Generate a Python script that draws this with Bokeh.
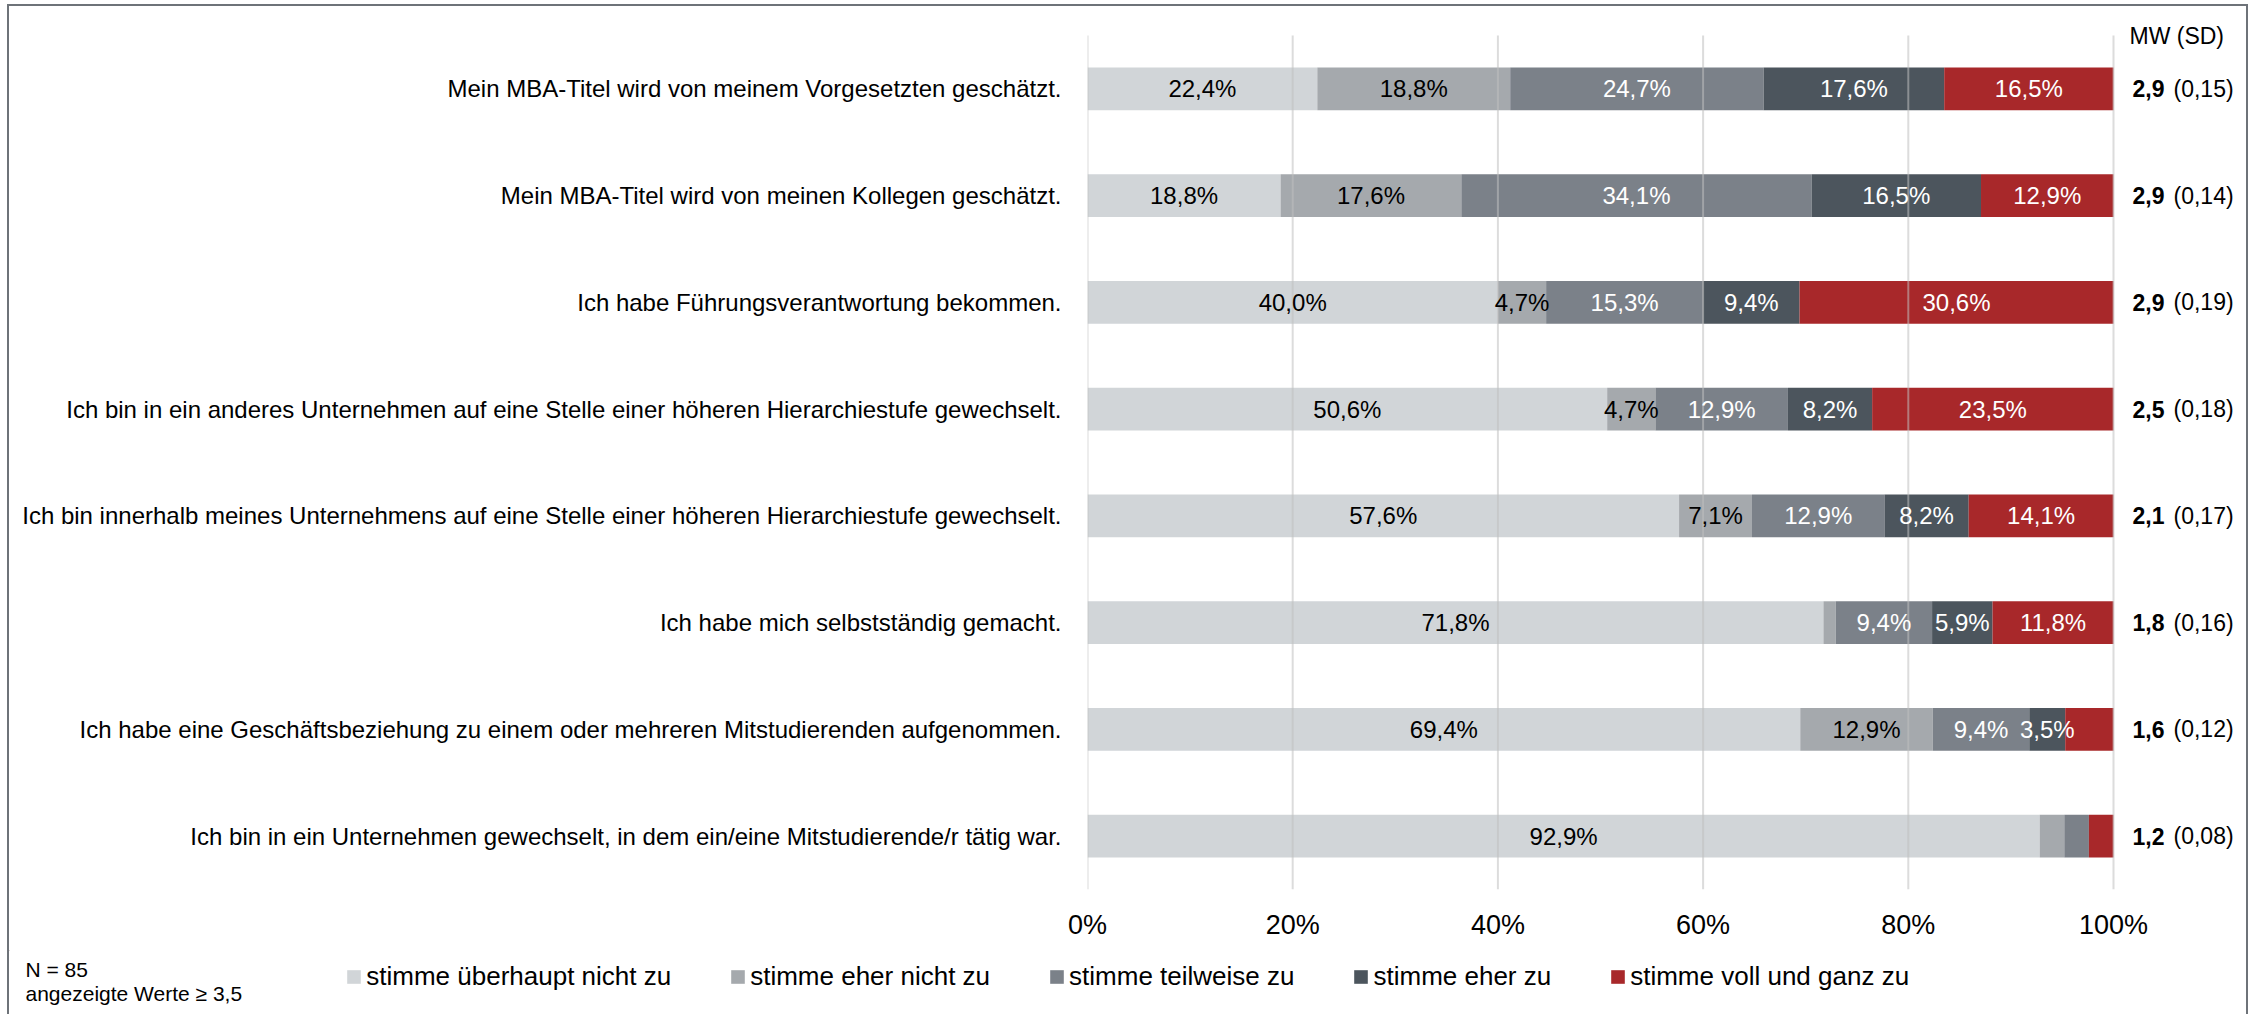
from bokeh.plotting import figure
from bokeh.models import (ColumnDataSource, Range1d, FixedTicker, PrintfTickFormatter,
                          Legend, LegendItem, Div, Spacer)
from bokeh.layouts import row, column
from bokeh.embed import file_html
from bokeh.resources import INLINE
from bokeh.core.properties import value

categories = [
    "Mein MBA-Titel wird von meinem Vorgesetzten geschätzt.",
    "Mein MBA-Titel wird von meinen Kollegen geschätzt.",
    "Ich habe Führungsverantwortung bekommen.",
    "Ich bin in ein anderes Unternehmen auf eine Stelle einer höheren Hierarchiestufe gewechselt.",
    "Ich bin innerhalb meines Unternehmens auf eine Stelle einer höheren Hierarchiestufe gewechselt.",
    "Ich habe mich selbstständig gemacht.",
    "Ich habe eine Geschäftsbeziehung zu einem oder mehreren Mitstudierenden aufgenommen.",
    "Ich bin in ein Unternehmen gewechselt, in dem ein/eine Mitstudierende/r tätig war.",
]
series = ["stimme überhaupt nicht zu", "stimme eher nicht zu", "stimme teilweise zu",
          "stimme eher zu", "stimme voll und ganz zu"]
ueberhaupt_nicht = [22.4, 18.8, 40.0, 50.6, 57.6, 71.8, 69.4, 92.9]
eher_nicht = [18.8, 17.6, 4.7, 4.7, 7.1, 1.2, 12.9, 2.4]
teilweise = [24.7, 34.1, 15.3, 12.9, 12.9, 9.4, 9.4, 2.4]
eher_zu = [17.6, 16.5, 9.4, 8.2, 8.2, 5.9, 3.5, 0.0]
voll = [16.5, 12.9, 30.6, 23.5, 14.1, 11.8, 4.7, 2.4]
mw = ["2,9", "2,9", "2,9", "2,5", "2,1", "1,8", "1,6", "1,2"]
sd = ["(0,15)", "(0,14)", "(0,19)", "(0,18)", "(0,17)", "(0,16)", "(0,12)", "(0,08)"]
x_ticks = [0, 20, 40, 60, 80, 100]
label_min = 3.5
label_hidden = [(6, 4)]
note_lines = ["N = 85", "angezeigte Werte ≥ 3,5"]
mw_header = "MW (SD)"

colors = ["#d1d5d8", "#a5a9ad", "#7b8189", "#4c555d", "#a8282a"]
text_colors = ["#000000", "#000000", "#ffffff", "#ffffff", "#ffffff"]
FONT = "Liberation Sans"
BORDER = "#6e7379"

values = [ueberhaupt_nicht, eher_nicht, teilweise, eher_zu, voll]
n_rows = len(categories)
ys = [n_rows - 0.5 - i for i in range(n_rows)]
row_sums = [sum(values[k][i] for k in range(5)) for i in range(n_rows)]

# page geometry (pixels): content box starts at x=9, y=6
PX_X = 10.26          # pixels per percent
PX_Y = 106.75         # pixels per row
X0 = 1087             # pixel of 0 %
Y0 = 889              # pixel of bottom of last row band
def dx(px):
    return (px - X0) / PX_X
def dy(py):
    return (Y0 - py) / PX_Y


def clean(fig):
    fig.outline_line_color = None
    fig.background_fill_color = "#ffffff"
    fig.border_fill_color = "#ffffff"
    fig.xgrid.visible = False
    fig.ygrid.visible = False
    return fig


# ---------------- main chart (bars + MW column) ----------------
p = clean(figure(width=2237, height=944, output_backend="svg", toolbar_location=None,
                 x_range=Range1d(0, dx(2246)), y_range=Range1d(0, dy(6)),
                 min_border_left=X0 - 9, min_border_right=0, min_border_top=0,
                 min_border_bottom=944 - (Y0 - 6)))

p.xaxis.ticker = FixedTicker(ticks=x_ticks)
p.xaxis.formatter = PrintfTickFormatter(format="%d%%")
p.xaxis.major_label_text_font = FONT
p.xaxis.major_label_text_font_size = "27px"
p.xaxis.major_label_text_color = "#000000"
p.xaxis.major_label_standoff = 14
p.xaxis.axis_line_color = None
p.xaxis.major_tick_line_color = None
p.xaxis.minor_tick_line_color = None

p.yaxis.ticker = FixedTicker(ticks=ys)
p.yaxis.major_label_overrides = {y: c for y, c in zip(ys, categories)}
p.yaxis.major_label_text_font = FONT
p.yaxis.major_label_text_font_size = "24px"
p.yaxis.major_label_text_color = "#000000"
p.yaxis.major_label_standoff = 20
p.yaxis.axis_line_color = None
p.yaxis.major_tick_line_color = None
p.yaxis.minor_tick_line_color = None

left = [0.0] * n_rows
lx, ly, lt, lc = [], [], [], []
for k in range(5):
    w = [values[k][i] / row_sums[i] * 100 for i in range(n_rows)]
    right = [left[i] + w[i] for i in range(n_rows)]
    src = ColumnDataSource(dict(y=ys, left=left, right=right))
    p.hbar(y="y", left="left", right="right", height=0.4, source=src,
           fill_color=colors[k], line_color=None)
    for i in range(n_rows):
        v = values[k][i]
        if v >= label_min and (i, k) not in label_hidden:
            lx.append((left[i] + right[i]) / 2)
            ly.append(ys[i])
            lt.append(f"{v:.1f}".replace(".", ",") + "%")
            lc.append(text_colors[k])
    left = right

# vertical gridlines over the bars, spanning the row bands only
p.segment(x0=x_ticks, x1=x_ticks, y0=[0] * len(x_ticks), y1=[n_rows] * len(x_ticks),
          line_color="#bfbfbf", line_alpha=0.55, line_width=2)

tsrc = ColumnDataSource(dict(x=lx, y=ly, t=lt, c=lc))
p.text(x="x", y="y", text="t", text_color="c", source=tsrc, text_align="center",
       text_baseline="middle", text_font=value(FONT), text_font_size="24px")

# MW (SD) column
p.text(x=[dx(2129)], y=[dy(35)], text=[mw_header], text_font=value(FONT),
       text_font_size="23px", text_baseline="middle", text_color="#000000")
msrc = ColumnDataSource(dict(y=ys, mw=mw, sd=sd))
p.text(x=dx(2132), y="y", text="mw", source=msrc, text_font=value(FONT),
       text_font_style="bold", text_font_size="23px", text_baseline="middle",
       text_color="#000000")
p.text(x=dx(2173), y="y", text="sd", source=msrc, text_font=value(FONT),
       text_font_size="23px", text_baseline="middle", text_color="#000000")

# ---------------- legend + notes ----------------
lg = clean(figure(width=2237, height=64, output_backend="svg", toolbar_location=None,
                  x_range=Range1d(9, 2246), y_range=Range1d(1014, 950),
                  x_axis_type=None, y_axis_type=None, min_border=0))
lg.text(x=[25, 25], y=[969, 993], text=note_lines, text_font=value(FONT),
        text_font_size="21px", text_baseline="middle", text_color="#000000")
# legend swatches: renderers whose single row lies outside the visible range
dummy = ColumnDataSource(dict(y=[0], left=[0], right=[1]))
swatches = [lg.hbar(y="y", left="left", right="right", height=1, source=dummy,
                    fill_color=colors[k], line_color=None) for k in range(5)]
legend = Legend(items=[LegendItem(label=series[k], renderers=[swatches[k]]) for k in range(5)],
                orientation="horizontal", location=(345.25 - 9, 1014 - 992),
                glyph_width=17, glyph_height=17, label_standoff=4, spacing=58,
                padding=0, margin=0, border_line_color=None, background_fill_alpha=0,
                label_text_font=FONT, label_text_font_size="26px",
                label_text_color="#000000")
lg.add_layout(legend)

# ---------------- frame lines ----------------
def line(w, h):
    return Div(text="", width=w, height=h, margin=0,
               styles={"background-color": BORDER})

content = column(row(p, spacing=0), lg, spacing=0)
layout = row(
    Spacer(width=7, height=1014),
    column(Spacer(width=2, height=4), line(2, 1010), spacing=0),
    column(Spacer(width=2237, height=4), line(2237, 2), content, spacing=0),
    column(Spacer(width=2, height=4), line(2, 1010), spacing=0),
    spacing=0,
)

open("out.html", "w").write(file_html(layout, INLINE))
